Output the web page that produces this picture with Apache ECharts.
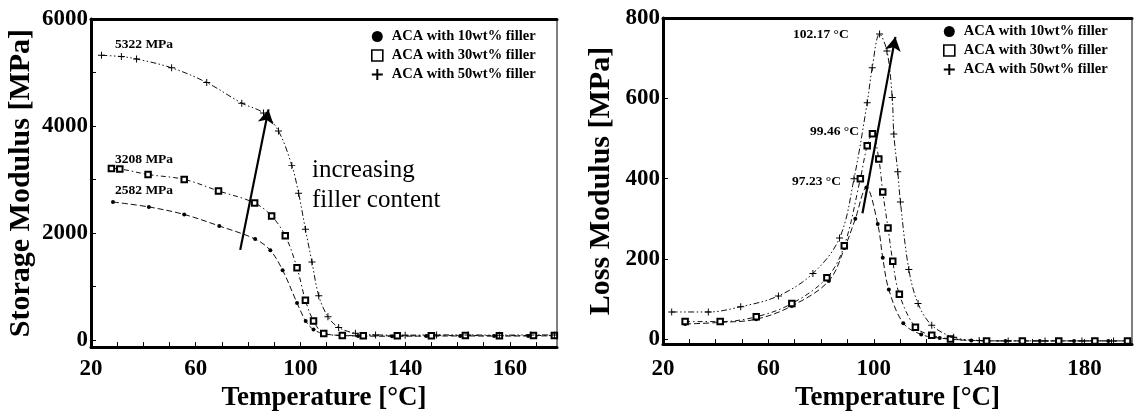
<!DOCTYPE html>
<html>
<head>
<meta charset="utf-8">
<script src="https://cdn.jsdelivr.net/npm/echarts@6/dist/echarts.min.js"></script>
<style>
html,body{margin:0;padding:0;background:#fff;}
#c{width:1136px;height:417px;}
</style>
</head>
<body>
<div id="c"></div>
<script>
// ---------------- data ----------------
const seriesNames = ['ACA with 10wt% filler', 'ACA with 30wt% filler', 'ACA with 50wt% filler'];
const tempTicks = [20, 60, 100, 140, 180];
const tempTickLabelsLeft = ['20', '60', '100', '140', '160'];
const tempTickLabelsRight = ['20', '60', '100', '140', '180'];
const tempMinorTicks = [20, 30, 40, 50, 60, 70, 80, 90, 100, 110, 120, 130, 140, 150, 160, 170, 180, 190];
const storageTicks = [0, 2000, 4000, 6000];
const storageMinorTicks = [0, 1000, 2000, 3000, 4000, 5000, 6000];
const lossTicks = [0, 200, 400, 600, 800];

// Storage modulus [MPa] vs temperature [°C]
const storage10 = [[28.4,2582],[42.1,2490],[55.6,2349],[69,2134],[82.7,1890],[88.5,1680],[93.2,1308],[98.7,697],[102,360],[105,200],[109.5,116],[122,80],[135,75],[148,78],[161,80],[174,78],[187,80],[197,82]];
const storage30 = [[27.8,3208],[31,3200],[41.8,3096],[55.6,3004],[68.7,2789],[82.5,2564],[89,2320],[94.2,1951],[98.7,1352],[101.9,747],[105,360],[108.9,128],[116,90],[124,85],[137,82],[150,85],[163,88],[176,85],[189,88],[197,90]];
const storage50 = [[24,5322],[31.6,5298],[37.4,5254],[50.8,5088],[64.2,4813],[77.6,4428],[85.9,4244],[91.6,3909],[96.7,3266],[99.3,2747],[101.9,2073],[104.4,1460],[107,830],[110.5,440],[114.6,239],[121,130],[128.7,100],[140,95],[152,100],[164,100],[176,95],[188,100],[197,100]];

// Loss modulus [MPa] vs temperature [°C]
const loss10 = [[28.4,38],[41.7,42],[55.4,50],[68.9,83],[82.9,145],[88.9,227],[93,300],[97.2,378],[101.5,287],[103.4,203],[105.7,124],[111.2,40],[118,12],[125,3],[137,-3],[150,-4],[163,-4],[176,-4],[189,-4],[197,-4]];
const loss30 = [[28.4,44],[41.7,44],[55.4,56],[68.9,89],[82.2,153],[88.8,233],[94.9,400],[97.5,482],[99.5,512],[101.9,449],[103.4,367],[105.4,277],[107.2,194],[109.7,112],[115.8,30],[122,10],[129.1,1],[142.8,-4],[156.4,-4],[170.2,-4],[183.9,-4],[196.3,-4]];
const loss50 = [[23.3,68],[37.2,68],[49.5,81],[63.8,108],[76.9,164],[87,252],[92.5,400],[97.5,589],[99.4,676],[102.2,760],[105,718],[107,602],[107.6,511],[109.1,417],[110.1,342],[113.3,174],[116.8,89],[122,35],[130.3,5],[140,-3],[151,-4],[165,-4],[179,-4],[191,-4]];

// annotation texts and arrows (data coordinates)
const storageLabels = ['5322 MPa', '3208 MPa', '2582 MPa'];
const lossLabels = ['102.17 °C', '99.46 °C', '97.23 °C'];
const storageArrow = [[77, 1688], [87.8, 4312]];
const lossArrow = [[95.7, 314], [108.2, 753]];
const annotationText = ['increasing', 'filler content'];

// ---------------- chart ----------------
const SERIF = '"Liberation Serif", "Times New Roman", serif';
const plusPath = 'path://M4.3,0H5.7V4.3H10V5.7H5.7V10H4.3V5.7H0V4.3H4.3Z';
const plusLegend = 'path://M4.1,0H5.9V4.1H10V5.9H5.9V10H4.1V5.9H0V4.1H4.1Z';

const chart = echarts.init(document.getElementById('c'), null, {renderer: 'canvas'});

function bottomAxis(grid, labels, nameGap, margin) {
  return {
    type: 'value', gridIndex: grid, min: 20, max: 198, position: 'bottom',
    name: 'Temperature [°C]', nameLocation: 'middle', nameGap: nameGap,
    nameTextStyle: {fontFamily: SERIF, fontWeight: 'bold', fontSize: 27, color: '#000'},
    axisLine: {show: true, onZero: false, lineStyle: {color: '#000', width: 3}},
    axisTick: {show: true, inside: true, length: 5, customValues: tempMinorTicks, lineStyle: {color: '#000', width: 1}},
    axisLabel: {
      show: true, customValues: tempTicks, margin: margin,
      fontFamily: SERIF, fontWeight: 'bold', fontSize: 23, color: '#000',
      formatter: function (v) { const i = tempTicks.indexOf(v); return i >= 0 ? labels[i] : ''; }
    },
    splitLine: {show: false}
  };
}
function topAxis(grid) {
  return {
    type: 'value', gridIndex: grid, min: 20, max: 198, position: 'top',
    axisLine: {show: true, onZero: false, lineStyle: {color: '#000', width: 3}},
    axisTick: {show: false}, axisLabel: {show: false}, splitLine: {show: false}
  };
}
function leftAxis(grid, min, max, ticks, minor, name, nameGap) {
  return {
    type: 'value', gridIndex: grid, min: min, max: max,
    name: name, nameLocation: 'middle', nameGap: nameGap, nameRotate: 90,
    nameTextStyle: {fontFamily: SERIF, fontWeight: 'bold', fontSize: 30, color: '#000'},
    axisLine: {show: true, onZero: false, lineStyle: {color: '#000', width: 3}},
    axisTick: {show: true, inside: true, length: 5, customValues: minor, lineStyle: {color: '#000', width: 1}},
    axisLabel: {show: true, customValues: ticks, margin: 3, fontFamily: SERIF, fontWeight: 'bold', fontSize: 23, color: '#000',
      formatter: function (v) { return String(v); }},
    splitLine: {show: false}
  };
}

const styles = [
  {symbol: 'circle', symbolSize: 4, dash: [6, 3], itemStyle: {color: '#000'}},
  {symbol: 'emptyRect', symbolSize: 5.5, dash: [5, 3, 1.5, 3], itemStyle: {color: '#000', borderColor: '#000', borderWidth: 1}},
  {symbol: plusPath, symbolSize: 7, dash: [6, 2.5, 1.5, 2.5, 1.5, 2.5], itemStyle: {color: '#000'}}
];

function lineSeries(name, data, st, xi, yi) {
  return {
    name: name, type: 'line', data: data, xAxisIndex: xi, yAxisIndex: yi,
    smooth: 0.35, symbol: st.symbol, symbolSize: st.symbolSize, showAllSymbol: true,
    lineStyle: {color: '#111', width: 1, type: st.dash},
    itemStyle: st.itemStyle, emphasis: {disabled: true}, animation: false, z: 3
  };
}
function arrowSeries(pts, xi, yi) {
  return {
    type: 'line', data: [], xAxisIndex: xi, yAxisIndex: yi, animation: false, silent: true,
    markLine: {
      silent: true, symbol: ['none', 'arrow'], symbolSize: [12, 14], animation: false,
      label: {show: false},
      lineStyle: {color: '#000', width: 2.2, type: 'solid'},
      data: [[{coord: pts[0]}, {coord: pts[1]}]]
    }
  };
}

const legendData = [
  {name: seriesNames[0], icon: 'circle', itemStyle: {color: '#000', borderWidth: 0}},
  {name: seriesNames[1], icon: 'rect', itemStyle: {color: '#fff', borderColor: '#000', borderWidth: 1.6}},
  {name: seriesNames[2], icon: plusLegend, itemStyle: {color: '#000', borderWidth: 0}}
];
function legendAt(left, top) {
  return {
    orient: 'vertical', left: left, top: top, itemGap: 4, itemWidth: 11, itemHeight: 11,
    selectedMode: false, data: legendData,
    textStyle: {fontFamily: SERIF, fontWeight: 'bold', fontSize: 14.5, color: '#000', padding: [0, 0, 0, 4]}
  };
}

function txt(text, x, y, size, bold) {
  return {type: 'text', x: x, y: y, silent: true, z: 10,
    style: {text: text, font: (bold ? 'bold ' : '') + size + 'px ' + SERIF, fill: '#000', verticalAlign: 'middle', textVerticalAlign: 'middle'}};
}

const option = {
  backgroundColor: '#fff',
  animation: false,
  grid: [
    {left: 91, top: 19, width: 466, height: 331, show: true, borderColor: '#000', borderWidth: 1, containLabel: false},
    {left: 663, top: 18, width: 469, height: 329, show: true, borderColor: '#000', borderWidth: 1, containLabel: false}
  ],
  xAxis: [
    bottomAxis(0, tempTickLabelsLeft, 36, 10),
    topAxis(0),
    bottomAxis(1, tempTickLabelsRight, 39, 13),
    topAxis(1)
  ],
  yAxis: [
    leftAxis(0, -128, 6000, storageTicks, storageMinorTicks, 'Storage Modulus [MPa]', 55),
    leftAxis(1, -12, 800, lossTicks, lossTicks, 'Loss Modulus [MPa]', 47)
  ],
  legend: [legendAt(366, 24), legendAt(938, 19)],
  series: [
    lineSeries(seriesNames[0], storage10, styles[0], 0, 0),
    lineSeries(seriesNames[1], storage30, styles[1], 0, 0),
    lineSeries(seriesNames[2], storage50, styles[2], 0, 0),
    lineSeries(seriesNames[0], loss10, styles[0], 2, 1),
    lineSeries(seriesNames[1], loss30, styles[1], 2, 1),
    lineSeries(seriesNames[2], loss50, styles[2], 2, 1),
    arrowSeries(storageArrow, 0, 0),
    arrowSeries(lossArrow, 2, 1)
  ],
  graphic: [
    txt(storageLabels[0], 115, 45, 13.5, true),
    txt(storageLabels[1], 115, 160, 13.5, true),
    txt(storageLabels[2], 115, 191, 13.5, true),
    txt(lossLabels[0], 793, 35, 13.5, true),
    txt(lossLabels[1], 810, 132, 13.5, true),
    txt(lossLabels[2], 792, 182, 13.5, true),
    txt(annotationText[0], 312, 170, 25, false),
    txt(annotationText[1], 312, 200, 25, false)
  ]
};
chart.setOption(option);
</script>
</body>
</html>
